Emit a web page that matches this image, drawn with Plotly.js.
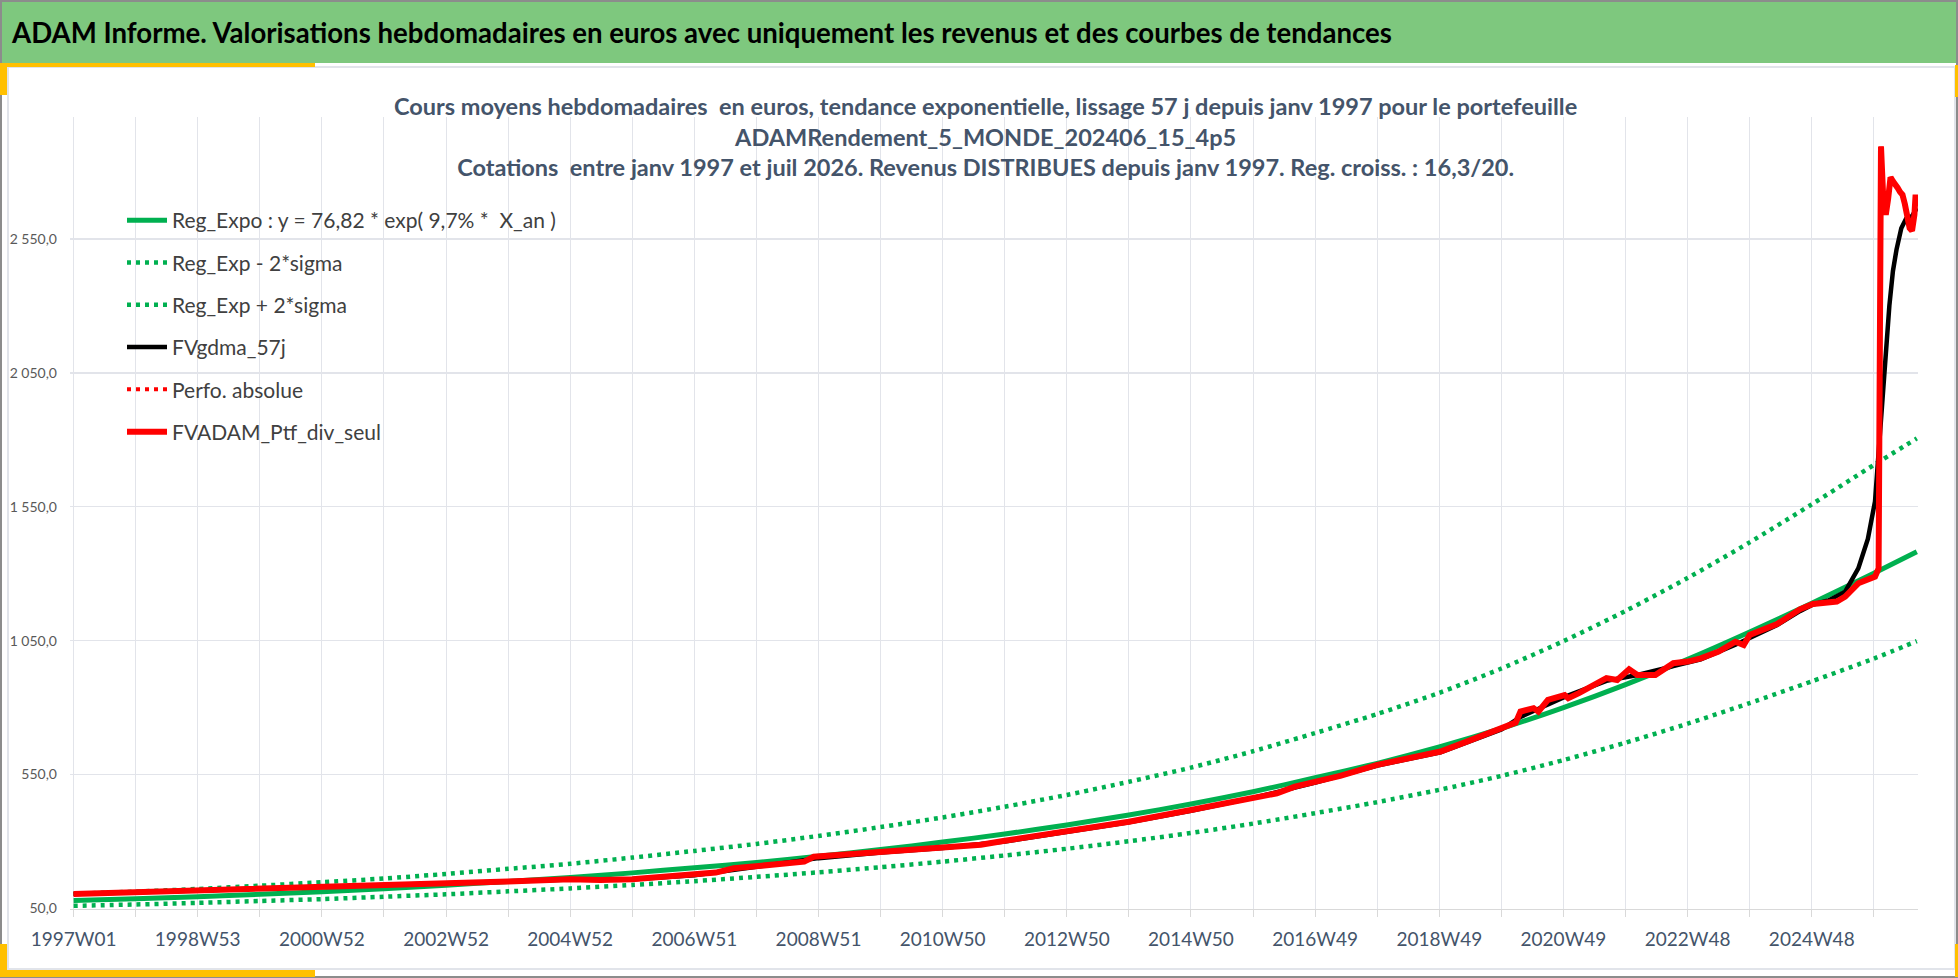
<!DOCTYPE html>
<html>
<head>
<meta charset="utf-8">
<script src="https://cdn.plot.ly/plotly-3.0.1.min.js"></script>
<style>
html,body{margin:0;padding:0;background:#fff;}
#chart{width:1958px;height:978px;}
</style>
</head>
<body>
<div id="chart"></div>
<script>
// week index since 1997W01 for the trend curves
const regWeeks = [0,52,104,156,208,260,312,364,416,468,520,572,624,676,728,780,832,884,936,988,1040,1092,1144,1196,1248,1300,1352,1404,1456,1508,1544];
const regExpo = [80,86,94,103,113,124,137,151,166,183,202,222,245,270,298,328,362,399,440,486,538,592,653,722,800,886,980,1082,1190,1302,1382];
const regExpLow = [60,65,71,78,85,94,103,114,125,138,152,168,185,204,225,248,273,301,332,367,406,447,493,545,604,669,740,817,898,983,1048];
const regExpHigh = [105,113,123,135,148,162,179,198,217,240,265,291,321,354,390,430,474,523,576,637,705,776,855,946,1048,1161,1284,1417,1559,1706,1805];

// portfolio, weekly values
const ptfWeeks = [0,52,104,156,208,260,312,364,416,441,468,520,538,553,572,612,620,676,728,760,780,832,884,936,985,1008,1023,1041,1061,1092,1117,1145,1167,1196,1208,1212,1223,1227,1235,1249,1252,1261,1284,1293,1303,1310,1325,1340,1352,1363,1378,1392,1399,1404,1427,1446,1457,1477,1484,1495,1509,1512,1514,1516,1518,1520,1522,1524,1526,1528,1530,1532,1534,1536,1538,1540,1542,1543,1544];
const ptfValues = [104,110,116,123,131,137,144,151,159,156,159,175,184,200,209,225,243,260,277,288,303,341,374,418,461,480,505,523,545,586,611,636,673,723,744,785,798,785,829,847,835,854,910,903,943,922,922,966,972,984,1009,1046,1034,1071,1112,1167,1187,1196,1214,1264,1289,1320,2895,2690,2640,2700,2780,2765,2755,2740,2725,2715,2680,2640,2590,2580,2640,2715,2670];

// 57 day smoothing
const gdmaWeeks = [0,104,208,312,416,468,520,572,624,676,728,780,832,884,936,988,1041,1092,1145,1196,1212,1227,1249,1284,1310,1340,1363,1392,1404,1427,1446,1457,1470,1484,1495,1503,1509,1512,1515,1518,1521,1524,1527,1531,1535,1540,1544];
const gdmaValues = [104,116,131,144,158,159,174,205,238,259,276,300,338,372,415,463,521,584,633,718,765,795,840,900,922,955,980,1035,1060,1108,1160,1185,1200,1233,1320,1430,1570,1760,1950,2120,2300,2430,2510,2590,2625,2635,2665];

const tickWeeks = [0,104,208,312,416,520,624,728,832,936,1040,1144,1248,1352,1456];
const tickLabels = ['1997W01','1998W53','2000W52','2002W52','2004W52','2006W51','2008W51','2010W50','2012W50','2014W50','2016W49','2018W49','2020W49','2022W48','2024W48'];
const minorWeeks = tickWeeks.map(w => w + 52);
const yTickVals = [50,550,1050,1550,2050,2550];
const yTickLabels = ['50,0','550,0','1 050,0','1 550,0','2 050,0','2 550,0'];

const FONT = 'Lato, "Open Sans", sans-serif';
const W = 1958, H = 978;
const px = x => x / W;
const py = y => 1 - y / H;
const GREEN = '#00B050', RED = '#FF0000';
const DOTS = '4px,5px';

const traces = [
  {type:'scatter', mode:'lines', x:regWeeks, y:regExpo, name:'Reg_Expo : y = 76,82 * exp( 9,7% *  X_an )',
   line:{color:GREEN, width:5, shape:'spline', smoothing:0.6}, legendgroup:'g1'},
  {type:'scatter', mode:'lines', x:regWeeks, y:regExpLow, name:'Reg_Exp - 2*sigma',
   line:{color:GREEN, width:4.5, dash:DOTS, shape:'spline', smoothing:0.6}, legendgroup:'g2'},
  {type:'scatter', mode:'lines', x:regWeeks, y:regExpHigh, name:'Reg_Exp + 2*sigma',
   line:{color:GREEN, width:4.5, dash:DOTS, shape:'spline', smoothing:0.6}, legendgroup:'g3'},
  {type:'scatter', mode:'lines', x:gdmaWeeks, y:gdmaValues, name:'FVgdma_57j',
   line:{color:'#000000', width:4.5}, legendgroup:'g4'},
  {type:'scatter', mode:'lines', x:ptfWeeks, y:ptfValues, name:'Perfo. absolue',
   line:{color:RED, width:4, dash:DOTS}, legendgroup:'g5'},
  {type:'scatter', mode:'lines', x:ptfWeeks, y:ptfValues, name:'FVADAM_Ptf_div_seul',
   line:{color:RED, width:6}, legendgroup:'g6'}
];

const gridCol = '#E2E4EA';
const layout = {
  width: W, height: H,
  margin:{l:0, r:0, t:0, b:0, pad:0},
  paper_bgcolor:'#ffffff',
  plot_bgcolor:'rgba(0,0,0,0)',
  hovermode:false,
  showlegend:true,
  title:{
    text:'<b>ADAM Informe. Valorisations hebdomadaires en euros avec uniquement les revenus et des courbes de tendances</b>',
    x:px(12), xanchor:'left', xref:'paper',
    y:py(33), yanchor:'middle', yref:'paper',
    font:{family:FONT, size:27.6, color:'#000000'}
  },
  xaxis:{
    domain:[px(70), px(1918)],
    range:[-3, 1545],
    tickmode:'array', tickvals:tickWeeks, ticktext:tickLabels,
    showgrid:true, gridcolor:gridCol, gridwidth:1,
    ticks:'outside', ticklen:7, tickcolor:'#D9D9D9',
    showline:true, linecolor:'#D9D9D9', linewidth:1.5,
    zeroline:false, fixedrange:true,
    minor:{tickmode:'array', tickvals:minorWeeks, showgrid:true, gridcolor:gridCol, gridwidth:1,
           ticks:'outside', ticklen:7, tickcolor:'#D9D9D9'},
    tickfont:{family:FONT, size:19, color:'#44546A'},
    ticklabelstandoff:6
  },
  yaxis:{
    domain:[py(908.5), py(117)],
    range:[50, 3005],
    tickmode:'array', tickvals:yTickVals, ticktext:yTickLabels,
    showgrid:true, gridcolor:gridCol, gridwidth:1.5,
    zeroline:false, showline:false, ticks:'', fixedrange:true,
    tickfont:{family:FONT, size:14, color:'#595959'},
    ticklabelstandoff:12
  },
  legend:{
    x:px(122), xanchor:'left', y:py(200), yanchor:'top',
    bgcolor:'rgba(0,0,0,0)', borderwidth:0,
    font:{family:FONT, size:21, color:'#404040'},
    tracegroupgap:12, itemwidth:40
  },
  annotations:[{
    xref:'paper', yref:'paper', x:px(986), y:py(137), xanchor:'center', yanchor:'middle',
    showarrow:false, align:'center',
    text:'<b>Cours moyens hebdomadaires  en euros, tendance exponentielle, lissage 57 j depuis janv 1997 pour le portefeuille</b><br>' +
         '<b>ADAMRendement_5_MONDE_202406_15_4p5</b><br>' +
         '<b>Cotations  entre janv 1997 et juil 2026. Revenus DISTRIBUES depuis janv 1997. Reg. croiss. : 16,3/20.</b>',
    font:{family:FONT, size:23.5, color:'#44546A'}
  }],
  shapes:[
    // title band
    {type:'rect', xref:'paper', yref:'paper', x0:0, x1:1, y0:py(63), y1:1, fillcolor:'#7EC87E', line:{width:0}, layer:'below'},
    // inner frame
    {type:'rect', xref:'paper', yref:'paper', x0:px(8), x1:px(1955), y0:py(969), y1:py(67), line:{color:'#E1E4EA', width:2}},
    // outer border
    {type:'rect', xref:'paper', yref:'paper', x0:px(1), x1:px(1957), y0:py(977), y1:py(1), line:{color:'#8C8C8C', width:2}},
    // yellow corners
    {type:'rect', xref:'paper', yref:'paper', x0:0, x1:px(315), y0:py(67), y1:py(63), fillcolor:'#FFC000', line:{width:0}},
    {type:'rect', xref:'paper', yref:'paper', x0:0, x1:px(7), y0:py(95), y1:py(63), fillcolor:'#FFC000', line:{width:0}},
    {type:'rect', xref:'paper', yref:'paper', x0:0, x1:px(315), y0:py(977), y1:py(970), fillcolor:'#FFC000', line:{width:0}},
    {type:'rect', xref:'paper', yref:'paper', x0:0, x1:px(7), y0:py(977), y1:py(944), fillcolor:'#FFC000', line:{width:0}},
    {type:'rect', xref:'paper', yref:'paper', x0:px(1955), x1:1, y0:py(97), y1:py(65), fillcolor:'#FFC000', line:{width:0}},
    {type:'rect', xref:'paper', yref:'paper', x0:px(1955), x1:1, y0:py(977), y1:py(944), fillcolor:'#FFC000', line:{width:0}}
  ]
};

Plotly.newPlot('chart', traces, layout, {displayModeBar:false, staticPlot:true});
</script>
</body>
</html>
